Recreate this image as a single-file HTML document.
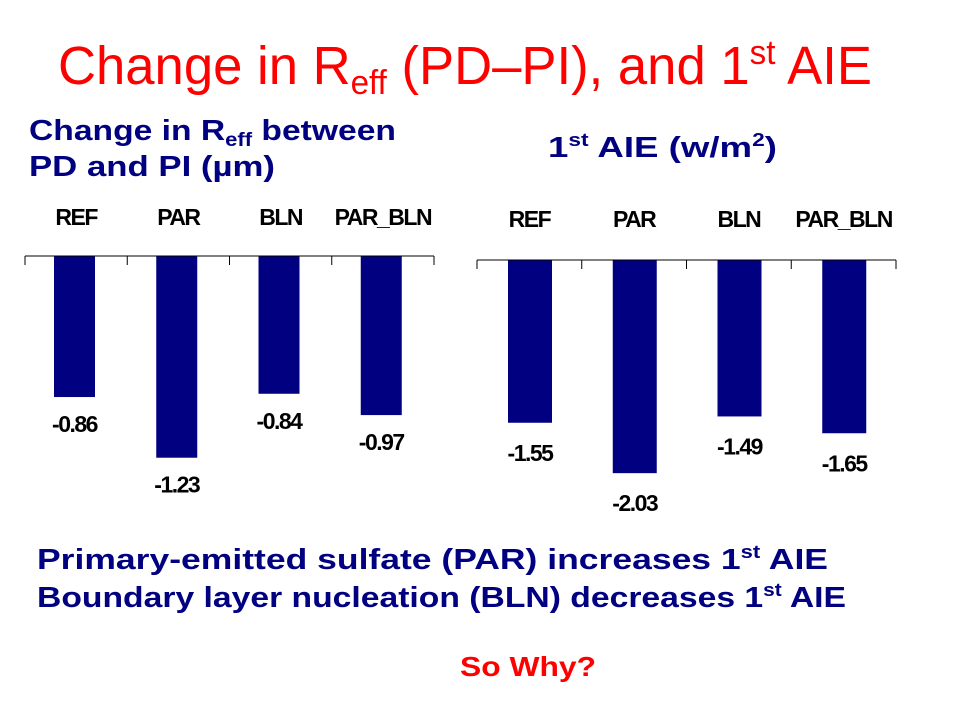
<!DOCTYPE html>
<html><head><meta charset="utf-8"><style>
html,body{margin:0;padding:0;background:#fff;}
svg{display:block;font-family:"Liberation Sans",sans-serif;}
.ttl{fill:#ff0000;font-size:54px;}
.sub{fill:#000080;font-size:29px;font-weight:bold;}
.cat{fill:#000;font-size:23px;font-weight:bold;letter-spacing:-1.5px;}
.val{fill:#000;font-size:23px;font-weight:bold;letter-spacing:-1.5px;}
</style></head><body>
<svg id="page" width="960" height="720" viewBox="0 0 960 720">
<text class="ttl" x="58" y="84" textLength="814" lengthAdjust="spacingAndGlyphs">Change in R<tspan font-size="34" dy="10">eff</tspan><tspan dy="-10"> (PD–PI), and 1</tspan><tspan font-size="34" dy="-20">st</tspan><tspan dy="20"> AIE</tspan></text>
<text class="sub" x="29" y="140" textLength="367" lengthAdjust="spacingAndGlyphs">Change in R<tspan font-size="19" dy="6">eff</tspan><tspan dy="-6"> between</tspan></text>
<text class="sub" x="29" y="176" textLength="246" lengthAdjust="spacingAndGlyphs">PD and PI (µm)</text>
<text class="sub" x="548" y="157" textLength="229" lengthAdjust="spacingAndGlyphs">1<tspan font-size="18" dy="-11">st</tspan><tspan dy="11"> AIE (w/m</tspan><tspan font-size="18" dy="-11">2</tspan><tspan dy="11">)</tspan></text>
<g id="left-chart"></g>
<g id="right-chart"></g>
<text class="sub" x="37" y="569" textLength="791" lengthAdjust="spacingAndGlyphs">Primary-emitted sulfate (PAR) increases 1<tspan font-size="18" dy="-11">st</tspan><tspan dy="11"> AIE</tspan></text>
<text class="sub" x="37" y="607" textLength="809" lengthAdjust="spacingAndGlyphs">Boundary layer nucleation (BLN) decreases 1<tspan font-size="18" dy="-11">st</tspan><tspan dy="11"> AIE</tspan></text>
<text x="460" y="676" fill="#ff0000" font-size="28" font-weight="bold" textLength="136" lengthAdjust="spacingAndGlyphs">So Why?</text>
</svg>
<script>
const categories = ["REF","PAR","BLN","PAR_BLN"];
const reffValues = [-0.86,-1.23,-0.84,-0.97];
const aieValues = [-1.55,-2.03,-1.49,-1.65];
const reffLabels = ["-0.86","-1.23","-0.84","-0.97"];
const aieLabels = ["-1.55","-2.03","-1.49","-1.65"];
const NS="http://www.w3.org/2000/svg";
function mk(tag,attrs,parent){const e=document.createElementNS(NS,tag);for(const k in attrs)e.setAttribute(k,attrs[k]);parent.appendChild(e);return e;}
function draw(g,vals,labels,cfg){
  const n=categories.length, step=(cfg.x1-cfg.x0)/n;
  const yPos=v=>cfg.axisY + (-v)*cfg.scale;
  categories.forEach((c,i)=>{
    const cx=cfg.x0+step*(i+0.5);
    const t=mk('text',{x:cx,y:cfg.catY,'text-anchor':'middle','class':'cat'},g);
    
    
    t.textContent=c;
    const bx=cfg.x0+step*i+cfg.off;
    const b=mk('rect',{x:bx,y:cfg.axisY,width:cfg.bw,height:yPos(vals[i])-cfg.axisY,fill:'#000080'},g);
    
    
    const l=mk('text',{x:bx+cfg.bw/2,y:yPos(vals[i])+cfg.lblOff,'text-anchor':'middle','class':'val'},g);
    
    
    l.textContent=labels[i];
  });
  const ax=mk('line',{x1:cfg.x0,y1:cfg.axisY,x2:cfg.x1,y2:cfg.axisY,stroke:'#000','stroke-width':1},g);
  
  
  for(let i=0;i<=n;i++){
    const tx=cfg.x0+step*i;
    const tk=mk('line',{x1:tx,y1:cfg.axisY,x2:tx,y2:cfg.axisY+9,stroke:'#000','stroke-width':1},g);
    
    
  }
}
draw(document.getElementById('left-chart'),reffValues,reffLabels,{x0:25,x1:434,axisY:256,scale:164,bw:41,off:29,catY:225,lblOff:35});
draw(document.getElementById('right-chart'),aieValues,aieLabels,{x0:477,x1:896,axisY:260,scale:105,bw:44,off:31,catY:227,lblOff:38});
</script>
</body></html>
